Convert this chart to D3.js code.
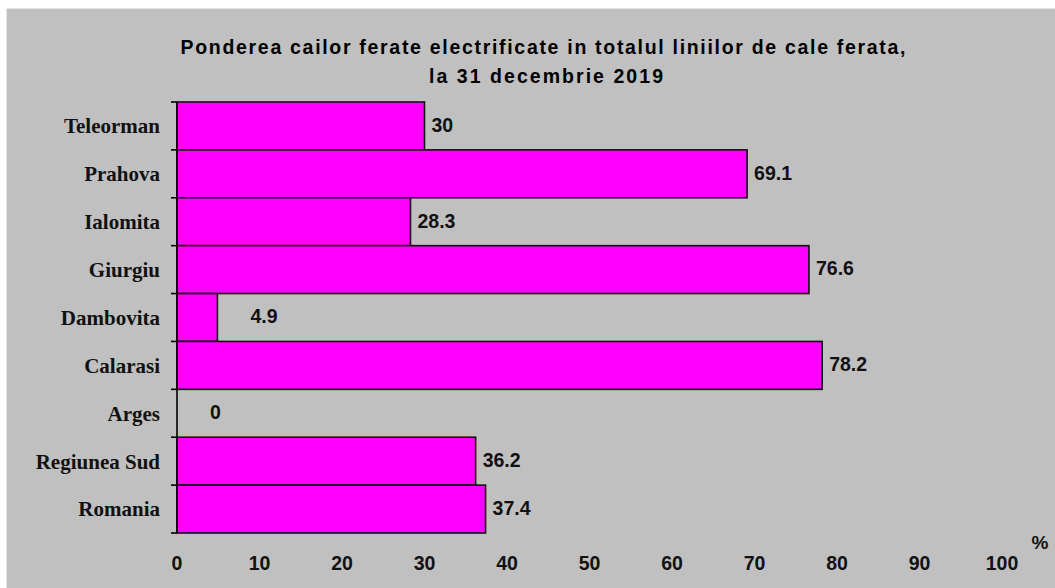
<!DOCTYPE html>
<html><head><meta charset="utf-8">
<script src="https://cdn.jsdelivr.net/npm/d3@7"></script>
<style>html,body{margin:0;padding:0;background:#fff;}svg{display:block;}</style>
</head><body>
<script>
const categories = ["Teleorman","Prahova","Ialomita","Giurgiu","Dambovita","Calarasi","Arges","Regiunea Sud","Romania"];
const values = [30, 69.1, 28.3, 76.6, 4.9, 78.2, 0, 36.2, 37.4];
const valueLabels = ["30","69.1","28.3","76.6","4.9","78.2","0","36.2","37.4"];
const xTicks = [0,10,20,30,40,50,60,70,80,90,100];
const titleLines = ["Ponderea cailor ferate electrificate in totalul liniilor de cale ferata,", "la 31 decembrie 2019"];
const unitLabel = "%";

const W = 1055, H = 588;
const svg = d3.select("body").append("svg").attr("width", W).attr("height", H);
svg.append("rect").attr("x", 7).attr("y", 9).attr("width", W - 7).attr("height", H - 9).attr("fill", "#c0c0c0");
svg.append("line").attr("x1",7).attr("x2",W).attr("y1",8.5).attr("y2",8.5).attr("stroke","#e4e4e4");
svg.append("line").attr("x1",6.5).attr("x2",6.5).attr("y1",9).attr("y2",H).attr("stroke","#e4e4e4");

const x = d3.scaleLinear().domain([0, 100]).range([177, 1002]);
const y = d3.scaleBand().domain(categories).range([102, 533]).padding(0);

const sans = "Liberation Sans, Arial, sans-serif";

// title
const titleWidths = [725, 234];
const titleCenters = [543, 546];
titleLines.forEach((l,i)=>{
  svg.append("text").attr("text-anchor","middle")
    .attr("font-family",sans).attr("font-weight","bold")
    .attr("font-size",19.5).attr("fill","#000")
    .attr("x", titleCenters[i]).attr("y", 47 + i*29).attr("dy","0.35em")
    .attr("textLength", titleWidths[i]).attr("lengthAdjust","spacing")
    .text(l);
});

// bars
svg.append("g").selectAll("rect").data(categories).join("rect")
  .attr("x", x(0)).attr("y", d => y(d))
  .attr("width", (d,i) => x(values[i]) - x(0))
  .attr("height", y.bandwidth())
  .attr("fill", "#ff00ff").attr("stroke", "#111").attr("stroke-width", 1.6)
  .attr("display", (d,i) => values[i] > 0 ? null : "none");

// y axis
const yAxis = svg.append("g").attr("transform", `translate(${x(0)},0)`);
yAxis.append("line").attr("x1",0).attr("x2",0).attr("y1",102).attr("y2",533).attr("stroke","#000").attr("stroke-width",1.6);
const boundaries = categories.map(c => y(c)).concat([y(categories[categories.length-1]) + y.bandwidth()]);
yAxis.selectAll("line.tk").data(boundaries).join("line").attr("class","tk")
  .attr("x1",-6).attr("x2",0).attr("y1",d=>d).attr("y2",d=>d).attr("stroke","#000").attr("stroke-width",1.6);

// category labels
svg.append("g").selectAll("text").data(categories).join("text")
  .attr("x", 160).attr("y", d => y(d) + y.bandwidth()/2)
  .attr("dy","0.35em").attr("text-anchor","end")
  .attr("font-family","Liberation Serif, Times New Roman, serif").attr("font-weight","bold")
  .attr("font-size",21).attr("fill","#111").text(d => d);

// value labels
svg.append("g").selectAll("text").data(categories).join("text")
  .attr("x", (d,i) => x(values[i]) + (values[i] < 10 ? 33 : 7))
  .attr("y", (d,i) => y(d) + y.bandwidth()/2 - 1)
  .attr("dy","0.35em")
  .attr("font-family",sans).attr("font-weight","bold")
  .attr("font-size",19.5).attr("fill","#111").text((d,i) => valueLabels[i]);

// x tick labels
svg.append("g").selectAll("text").data(xTicks).join("text")
  .attr("x", d => x(d)).attr("y", 563).attr("dy","0.35em").attr("text-anchor","middle")
  .attr("font-family",sans).attr("font-weight","bold")
  .attr("font-size",19.5).attr("fill","#111").text(d => d);

svg.append("text").attr("x", 1040).attr("y", 542).attr("dy","0.35em").attr("text-anchor","middle")
  .attr("font-family",sans).attr("font-weight","bold")
  .attr("font-size",19).attr("fill","#111").text(unitLabel);
</script>
</body></html>
